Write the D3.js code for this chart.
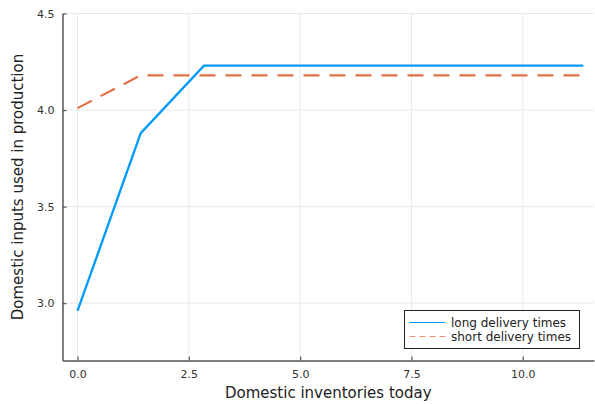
<!DOCTYPE html>
<html>
<head>
<meta charset="utf-8">
<script src="https://cdn.jsdelivr.net/npm/d3@7"></script>
<style>
  body { margin: 0; background: #fff; }
  svg { display: block; font-family: "DejaVu Sans", sans-serif; }
</style>
</head>
<body>
<svg id="chart" width="595" height="404"></svg>
<script>
const inventories = [0, 1.42, 2.84, 4.26, 5.68, 7.10, 8.52, 9.94, 11.36];
const longDelivery = [2.96, 3.88, 4.23, 4.23, 4.23, 4.23, 4.23, 4.23, 4.23];
const shortDelivery = [4.01, 4.18, 4.18, 4.18, 4.18, 4.18, 4.18, 4.18, 4.18];
const xTicks = [0, 2.5, 5, 7.5, 10];
const yTicks = [3.0, 3.5, 4.0, 4.5];
const seriesNames = ["long delivery times", "short delivery times"];

const MARGIN = { left: 62.5, top: 13.5, right: 1, bottom: 43.5 };
const WIDTH = 595, HEIGHT = 404;

const svg = d3.select("#chart");

const x = d3.scaleLinear()
    .domain([-0.337, 11.6])
    .range([MARGIN.left, WIDTH - MARGIN.right]);
const y = d3.scaleLinear()
    .domain([2.703, 4.5])
    .range([HEIGHT - MARGIN.bottom, MARGIN.top]);

// grid
svg.append("g").selectAll("line")
    .data(xTicks)
    .join("line")
    .attr("x1", d => x(d)).attr("x2", d => x(d))
    .attr("y1", MARGIN.top).attr("y2", HEIGHT - MARGIN.bottom)
    .attr("stroke", "#e9e9e9").attr("stroke-width", 1);
svg.append("g").selectAll("line")
    .data(yTicks)
    .join("line")
    .attr("x1", MARGIN.left).attr("x2", WIDTH - MARGIN.right)
    .attr("y1", d => y(d)).attr("y2", d => y(d))
    .attr("stroke", "#e9e9e9").attr("stroke-width", 1);

// axes (ticks point inward like GR)
const xAxis = svg.append("g")
    .attr("transform", `translate(0,${HEIGHT - MARGIN.bottom})`)
    .call(d3.axisBottom(x).tickValues(xTicks).tickFormat(d3.format(".1f"))
        .tickSizeInner(-4).tickSizeOuter(0).tickPadding(10));
const yAxis = svg.append("g")
    .attr("transform", `translate(${MARGIN.left},0)`)
    .call(d3.axisLeft(y).tickValues(yTicks).tickFormat(d3.format(".1f"))
        .tickSizeInner(-4).tickSizeOuter(0).tickPadding(8));

[xAxis, yAxis].forEach(ax => {
    ax.select(".domain").attr("stroke", "#555").attr("stroke-width", 1.5);
    ax.selectAll(".tick line").attr("stroke", "#555").attr("stroke-width", 1.2);
    ax.selectAll(".tick text")
        .attr("fill", "#333")
        .style("font-size", "11px")
        .style("font-family", "DejaVu Sans, sans-serif");
});

// lines
const rows = inventories.map((v, i) => ({ x: v, long: longDelivery[i], short: shortDelivery[i] }));

const lineLong = d3.line().x(d => x(d.x)).y(d => y(d.long));
const lineShort = d3.line().x(d => x(d.x)).y(d => y(d.short));

svg.append("path")
    .datum(rows)
    .attr("d", lineShort)
    .attr("fill", "none")
    .attr("stroke", "#e26f46")
    .attr("stroke-width", 2.2)
    .attr("stroke-dasharray", "16,10");

svg.append("path")
    .datum(rows)
    .attr("d", lineLong)
    .attr("fill", "none")
    .attr("stroke", "#009afa")
    .attr("stroke-width", 2.3)
    .attr("stroke-linejoin", "miter");

// axis labels
svg.append("text")
    .attr("x", (MARGIN.left + WIDTH - MARGIN.right) / 2)
    .attr("y", 398)
    .attr("text-anchor", "middle")
    .style("font-size", "15px")
    .attr("fill", "#222")
    .text("Domestic inventories today");

svg.append("text")
    .attr("transform", `translate(23,${(MARGIN.top + HEIGHT - MARGIN.bottom) / 2}) rotate(-90)`)
    .attr("text-anchor", "middle")
    .style("font-size", "15px")
    .attr("fill", "#222")
    .text("Domestic inputs used in production");

// legend
const legend = svg.append("g").attr("transform", "translate(404.5,310.5)");
legend.append("rect")
    .attr("width", 175).attr("height", 38)
    .attr("fill", "#fff").attr("stroke", "#222").attr("stroke-width", 1);

const legendItems = [
    { name: seriesNames[0], color: "#009afa", dash: null },
    { name: seriesNames[1], color: "#e26f46", dash: "6,4" }
];
legend.selectAll("line")
    .data(legendItems)
    .join("line")
    .attr("x1", 5).attr("x2", 41)
    .attr("y1", (d, i) => 12 + i * 14).attr("y2", (d, i) => 12 + i * 14)
    .attr("stroke", d => d.color)
    .attr("stroke-opacity", (d, i) => i === 1 ? 0.75 : 1)
    .attr("stroke-width", 1)
    .attr("stroke-dasharray", d => d.dash);
legend.selectAll("text")
    .data(legendItems)
    .join("text")
    .attr("x", 46.5)
    .attr("y", (d, i) => 16.5 + i * 14)
    .style("font-size", "12px")
    .attr("fill", "#222")
    .text(d => d.name);
</script>
</body>
</html>
